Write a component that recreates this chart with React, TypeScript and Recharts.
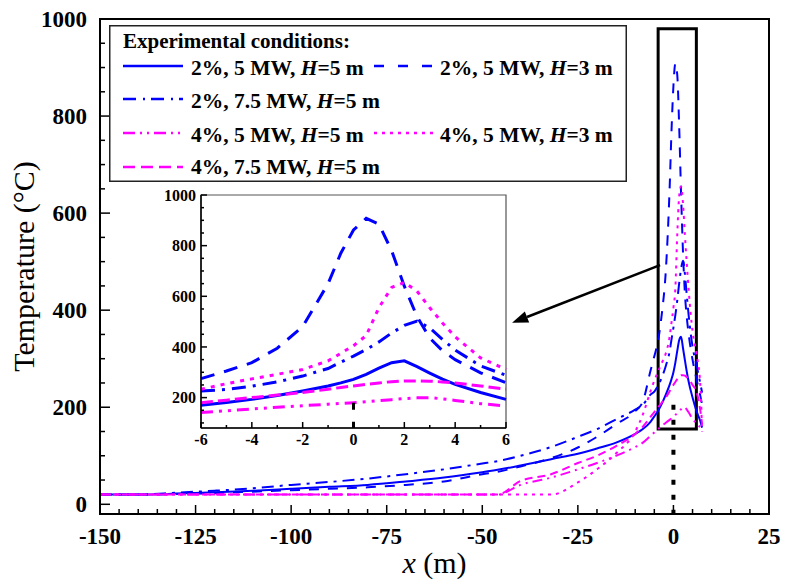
import { LineChart, Line, XAxis, YAxis, ReferenceArea, ReferenceLine, Legend, CartesianGrid, Label } from "recharts";

const FONT = "'Times New Roman', 'Liberation Serif', serif";
const BLUE = "#0000ff";
const MAGENTA = "#ff00ff";

// distance from the fire source (m)
const X_M = [
  -150, -140, -130, -120, -110, -100, -90, -80, -70, -60, -50, -46,
  -40, -32, -25, -20, -15, -10, -8,
  -6, -5, -4, -3, -2, -1, -0.5,
  0, 0.5, 1, 1.5, 2, 2.5, 3, 3.5, 4,
  5, 6, 7, 7.5,
];

// 2%, 5 MW, H=5 m
const S1 = [
  20, 20, 22, 25, 28, 32, 36, 40, 47, 55, 66, 71,
  80, 93, 104, 115, 127, 145, 155,
  170, 181, 193, 208, 226, 246, 258,
  272, 292, 316, 338, 345, 322, 297, 273, 252,
  220, 193, 172, 158,
];
// 2%, 5 MW, H=3 m
const S2 = [
  20, 20, 21, 23, 26, 29, 32, 35, 40, 47, 62, 67,
  78, 95, 117, 139, 165, 192, 212,
  275, 305, 338, 395, 480, 650, 770,
  862, 908, 885, 780, 640, 520, 435, 385, 350,
  298, 259, 225, 205,
];
// 2%, 7.5 MW, H=5 m
const S3 = [
  20, 20, 24, 28, 33, 40, 46, 53, 62, 72, 84, 89,
  100, 118, 139, 155, 175, 195, 205,
  226, 232, 245, 262, 285, 315, 340,
  364, 390, 420, 455, 485, 502, 475, 430, 388,
  325, 288, 250, 230,
];
// 4%, 5 MW, H=5 m
const S4 = [
  20, 20, 20, 20, 20, 20, 20, 20, 20, 20, 20, 20,
  40, 55, 72, 85, 100, 118, 127,
  141, 148, 155, 162, 168, 174, 177,
  180, 184, 188, 192, 196, 199, 200, 195, 189,
  176, 167, 158, 150,
];
// 4%, 5 MW, H=3 m
const S5 = [
  20, 20, 20, 20, 20, 20, 20, 20, 20, 20, 20, 20,
  20, 20, 45, 72, 105, 150, 185,
  233, 255, 274, 292, 311, 345, 375,
  405, 445, 555, 635, 655, 620, 555, 495, 440,
  357, 311, 250, 150,
];
// 4%, 7.5 MW, H=5 m
const S6 = [
  20, 20, 20, 20, 20, 20, 20, 20, 20, 20, 20, 20,
  48, 62, 85, 100, 120, 145, 160,
  180, 190, 200, 210, 220, 233, 240,
  246, 252, 258, 263, 266, 266, 265, 262, 258,
  246, 233, 195, 165,
];

const SERIES = [
  { key: "s1", name: "2%, 5 MW, H=5 m", color: BLUE, dash: undefined, insetDash: undefined, legendDash: undefined },
  { key: "s2", name: "2%, 5 MW, H=3 m", color: BLUE, dash: "10 9", insetDash: "14 10", legendDash: "10 14" },
  { key: "s3", name: "2%, 7.5 MW, H=5 m", color: BLUE, dash: "12 6 3 6", insetDash: "14 7 3 7", legendDash: "13 7 2 6" },
  { key: "s4", name: "4%, 5 MW, H=5 m", color: MAGENTA, dash: "10 5 2 5 2 5", insetDash: "12 6 3 6 3 6", legendDash: "12 5 2 5 2 5" },
  { key: "s5", name: "4%, 5 MW, H=3 m", color: MAGENTA, dash: "3 5", insetDash: "4 6", legendDash: "3 5" },
  { key: "s6", name: "4%, 7.5 MW, H=5 m", color: MAGENTA, dash: "8 5", insetDash: "12 5", legendDash: "12 6" },
];
const SERIES_VALUES = [S1, S2, S3, S4, S5, S6];

const MAIN_X_TICKS = Array.from({ length: 36 }, (_, i) => -150 + i * 5);
const MAIN_Y_TICKS = Array.from({ length: 21 }, (_, i) => i * 50);
const INSET_X_TICKS = Array.from({ length: 13 }, (_, i) => -6 + i);
const INSET_Y_TICKS = Array.from({ length: 19 }, (_, i) => 100 + i * 50);

const MAIN_DATA = X_M.map((x, i) => {
  const row: Record<string, number> = { x };
  SERIES.forEach((s, j) => (row[s.key] = SERIES_VALUES[j][i]));
  return row;
});
const INSET_DATA = MAIN_DATA.filter((d) => d.x >= -6 && d.x <= 6);

type TickOpts = { step: number; major: number; minor: number; gap: number; size: number };

const isMajor = (v: number, step: number) => Math.abs(v / step - Math.round(v / step)) < 1e-6;

const bottomTick = (o: TickOpts) => (p: any) => {
  const v = Number(p.payload.value);
  const big = isMajor(v, o.step);
  const axisY = p.y - o.gap;
  return (
    <g>
      <line x1={p.x} x2={p.x} y1={axisY} y2={axisY - (big ? o.major : o.minor)} stroke="#000" strokeWidth={1.5} />
      {big && (
        <text x={p.x} y={p.y} dy="0.71em" textAnchor="middle" fontFamily={FONT} fontWeight="bold" fontSize={o.size} fill="#000">
          {v}
        </text>
      )}
    </g>
  );
};

const leftTick = (o: TickOpts) => (p: any) => {
  const v = Number(p.payload.value);
  const big = isMajor(v, o.step);
  const axisX = p.x + o.gap;
  return (
    <g>
      <line x1={axisX} x2={axisX + (big ? o.major : o.minor)} y1={p.y} y2={p.y} stroke="#000" strokeWidth={1.5} />
      {big && (
        <text x={p.x} y={p.y} dy="0.35em" textAnchor="end" fontFamily={FONT} fontWeight="bold" fontSize={o.size} fill="#000">
          {v}
        </text>
      )}
    </g>
  );
};

const Arrow = (p: any) => {
  const { x1, y1, x2, y2 } = p;
  const a = Math.atan2(y2 - y1, x2 - x1);
  const len = 16;
  const w = 6;
  const bx = x2 - len * Math.cos(a);
  const by = y2 - len * Math.sin(a);
  const pts = [
    [x2, y2],
    [bx + w * Math.sin(a), by - w * Math.cos(a)],
    [bx - w * Math.sin(a), by + w * Math.cos(a)],
  ]
    .map((q) => q.join(","))
    .join(" ");
  return (
    <g>
      <line x1={x1} y1={y1} x2={bx} y2={by} stroke="#000" strokeWidth={2.5} />
      <polygon points={pts} fill="#000" />
    </g>
  );
};

const LEGEND_POS = [
  { row: 0, col: 0 },
  { row: 0, col: 1 },
  { row: 1, col: 0 },
  { row: 2, col: 0 },
  { row: 2, col: 1 },
  { row: 3, col: 0 },
];
const ROW_LINE_Y = [41, 74, 108, 142];
const ROW_TEXT_Y = [50, 83, 117, 149];
const COL_LINE_X = [[14, 74], [265, 324]];
const COL_TEXT_X = [82, 331];

const LegendBox = () => (
  <svg width={518} height={157} style={{ display: "block" }}>
    <rect x={0.75} y={0.75} width={516.5} height={155.5} fill="#fff" stroke="#222" strokeWidth={1.5} />
    <text x={14} y={23} fontFamily={FONT} fontWeight="bold" fontSize={21} fill="#000">
      Experimental conditions:
    </text>
    {SERIES.map((s, i) => {
      const { row, col } = LEGEND_POS[i];
      const [pre, post] = s.name.split("H");
      return (
        <g key={s.key}>
          <line x1={COL_LINE_X[col][0]} x2={COL_LINE_X[col][1]} y1={ROW_LINE_Y[row]} y2={ROW_LINE_Y[row]} stroke={s.color} strokeWidth={2.5} strokeDasharray={s.legendDash} />
          <text x={COL_TEXT_X[col]} y={ROW_TEXT_Y[row]} fontFamily={FONT} fontWeight="bold" fontSize={21.5} fill="#000">
            {pre}
            <tspan fontStyle="italic">H</tspan>
            {post}
          </text>
        </g>
      );
    })}
  </svg>
);

const XTitle = (p: any) => {
  const vb = p.viewBox;
  return (
    <text x={vb.x + vb.width / 2} y={vb.y + 59} textAnchor="middle" fontFamily={FONT} fontSize={30} fill="#000">
      <tspan fontStyle="italic">x</tspan> (m)
    </text>
  );
};

const YTitle = (p: any) => {
  const vb = p.viewBox;
  const cx = vb.x + 14;
  const cy = vb.y + vb.height / 2;
  return (
    <text x={cx} y={cy} transform={`rotate(-90 ${cx} ${cy})`} textAnchor="middle" fontFamily={FONT} fontSize={30} fill="#000">
      Temperature (°C)
    </text>
  );
};

export default function App() {
  return (
    <div style={{ position: "absolute", left: 0, top: 0, width: 785, height: 585, background: "#fff" }}>
      <LineChart width={785} height={585} data={MAIN_DATA} margin={{ top: 19, right: 16, left: 20, bottom: 0 }}>
        <XAxis
          type="number"
          dataKey="x"
          domain={[-150, 25]}
          ticks={MAIN_X_TICKS}
          interval={0}
          height={71}
          tickSize={0}
          tickMargin={14}
          tickLine={false}
          axisLine={{ stroke: "#000", strokeWidth: 2 }}
          tick={bottomTick({ step: 25, major: 9, minor: 5, gap: 14, size: 23 })}
        >
          <Label content={XTitle} />
        </XAxis>
        <YAxis
          type="number"
          domain={[-20, 1000]}
          ticks={MAIN_Y_TICKS}
          interval={0}
          width={80}
          tickSize={0}
          tickMargin={13}
          tickLine={false}
          axisLine={{ stroke: "#000", strokeWidth: 2 }}
          tick={leftTick({ step: 200, major: 10, minor: 5, gap: 13, size: 23 })}
        >
          <Label content={YTitle} />
        </YAxis>
        <ReferenceArea x1={-150} x2={25} y1={-20} y2={1000} fill="none" stroke="#000" strokeWidth={2} />
        {SERIES.map((s) => (
          <Line
            key={s.key}
            type="monotone"
            dataKey={s.key}
            name={s.name}
            stroke={s.color}
            strokeWidth={2}
            strokeDasharray={s.dash}
            dot={false}
            isAnimationActive={false}
          />
        ))}
        <ReferenceLine segment={[{ x: 0, y: 205 }, { x: 0, y: -20 }]} stroke="#000" strokeWidth={4} strokeDasharray="5 10" />
        <ReferenceArea x1={-4} x2={6} y1={155} y2={980} fill="none" stroke="#000" strokeWidth={3} />
        <ReferenceLine segment={[{ x: -3.5, y: 493 }, { x: -42.2, y: 374 }]} shape={Arrow} />
        <Legend
          layout="horizontal"
          verticalAlign="middle"
          align="center"
          content={() => <LegendBox />}
          wrapperStyle={{ left: 109, top: 25, width: 518, height: 157 }}
        />
      </LineChart>

      <div style={{ position: "absolute", left: 150, top: 180, width: 370, height: 280 }}>
        <LineChart width={370} height={280} data={INSET_DATA} margin={{ top: 15, right: 14, left: 6, bottom: 0 }}>
          <CartesianGrid horizontal={false} vertical={false} fill="#fff" />
          <XAxis
            type="number"
            dataKey="x"
            domain={[-6, 6]}
            ticks={INSET_X_TICKS}
            interval={0}
            height={32}
            tickSize={0}
            tickMargin={6}
            tickLine={false}
            axisLine={{ stroke: "#000", strokeWidth: 1.5 }}
            tick={bottomTick({ step: 2, major: 6, minor: 3, gap: 6, size: 16 })}
          />
          <YAxis
            type="number"
            domain={[80, 1000]}
            ticks={INSET_Y_TICKS}
            interval={0}
            width={45}
            tickSize={0}
            tickMargin={5}
            tickLine={false}
            axisLine={{ stroke: "#000", strokeWidth: 1.5 }}
            tick={leftTick({ step: 200, major: 6, minor: 3, gap: 5, size: 16 })}
          />
          {SERIES.map((s) => (
            <Line
              key={s.key}
              type="linear"
              dataKey={s.key}
              name={s.name}
              stroke={s.color}
              strokeWidth={3}
              strokeDasharray={s.insetDash}
              dot={false}
              isAnimationActive={false}
            />
          ))}
          <ReferenceLine segment={[{ x: 0, y: 180 }, { x: 0, y: 80 }]} stroke="#000" strokeWidth={3} strokeDasharray="7 12" />
          <ReferenceArea x1={-6} x2={6} y1={80} y2={1000} fill="none" stroke="#555" strokeWidth={1.2} />
        </LineChart>
      </div>
    </div>
  );
}
